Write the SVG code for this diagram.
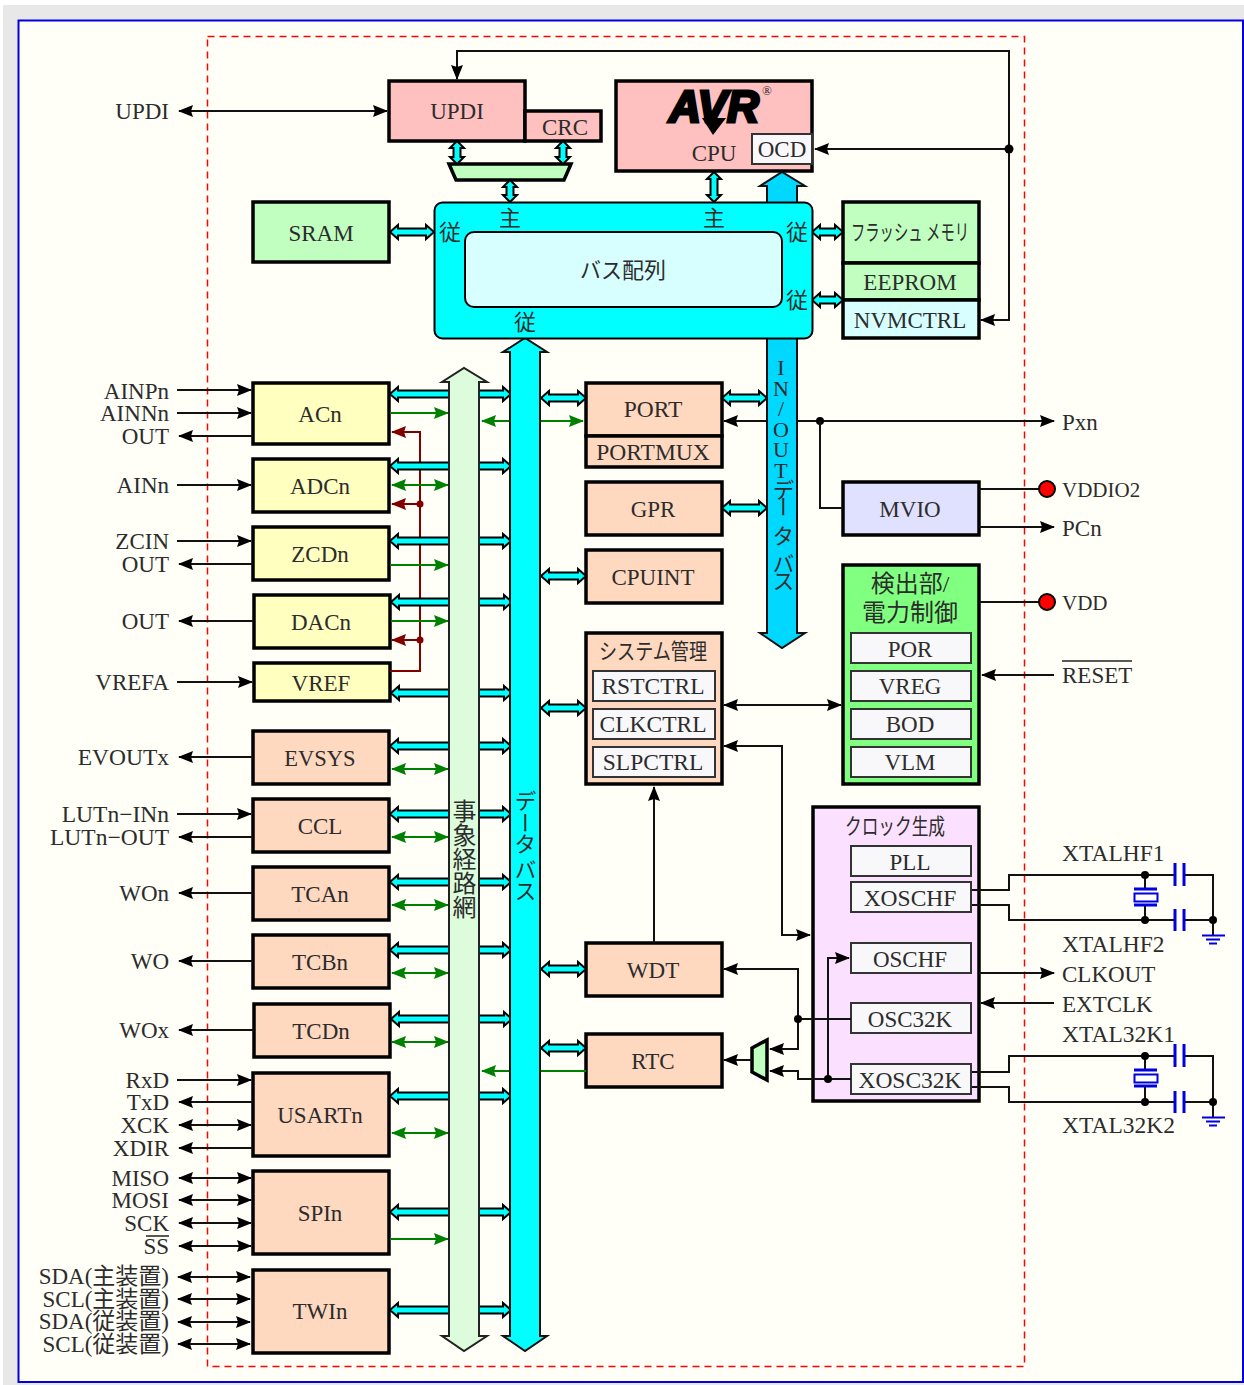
<svg xmlns="http://www.w3.org/2000/svg" width="1244" height="1385" viewBox="0 0 1244 1385">
<style>
text{font-family:"Liberation Serif","Noto Sans CJK JP",serif;font-size:23px;fill:#2c2c2c;text-anchor:middle}
.l{text-anchor:end}.r{text-anchor:start}
.j{font-size:22px}
.w{font-size:23.500px}
.n{stroke:#000;stroke-width:3.500}
.s{fill:#f8f8fa;stroke:#333;stroke-width:2}
.y{fill:#ffffc0}.o{fill:#ffd8c0}.p{fill:#ffc0c0}.g{fill:#c0ffc0}
.k{fill:none;stroke:#111;stroke-width:2}
.a{marker-end:url(#ab)}.b{marker-start:url(#ab);marker-end:url(#ab)}
.ga{fill:none;stroke:#008000;stroke-width:2;marker-end:url(#ag)}
.gb{fill:none;stroke:#008000;stroke-width:2;marker-start:url(#ag);marker-end:url(#ag)}
.ra{fill:none;stroke:#800000;stroke-width:2;marker-end:url(#ar)}
.c{fill:#00ffff;stroke:#000;stroke-width:2}
.d{fill:#000;stroke:none}
.bl{fill:none;stroke:#0000e0;stroke-width:3}
</style>
<defs>
<marker id="ab" markerUnits="userSpaceOnUse" markerWidth="15" markerHeight="14" refX="14" refY="7" orient="auto-start-reverse"><path d="M0,1 L15,7 L0,13 L2,7Z" fill="#000"/></marker>
<marker id="ag" markerUnits="userSpaceOnUse" markerWidth="15" markerHeight="14" refX="14" refY="7" orient="auto-start-reverse"><path d="M0,1 L15,7 L0,13 L2,7Z" fill="#008000"/></marker>
<marker id="ar" markerUnits="userSpaceOnUse" markerWidth="15" markerHeight="14" refX="14" refY="7" orient="auto-start-reverse"><path d="M0,1 L15,7 L0,13 L2,7Z" fill="#800000"/></marker>
</defs>
<rect width="1244" height="1385" fill="#fff"/>
<rect x="3" y="5" width="1241" height="1380" fill="#e8e8e8"/>
<rect x="18.500" y="20.500" width="1224.500" height="1361.500" fill="#fffff8" stroke="#0000e0" stroke-width="2"/>
<rect x="207.500" y="36.500" width="817" height="1330" fill="none" stroke="#f00" stroke-width="1.500" stroke-dasharray="7 5"/>

<g id="updi"><rect class="n p" x="389" y="81" width="136" height="60"/><text x="457" y="119">UPDI</text></g>
<g id="crc"><rect class="n p" x="525" y="111" width="76" height="30"/><text x="565" y="135">CRC</text></g>
<g id="mux1"><path class="n g" d="M449,164H571L564,180H456Z"/></g>
<g id="cpu"><rect class="n p" x="616" y="81" width="196" height="90"/>
<path d="M702,118H726L713,135Z" fill="#000"/>
<text x="714" y="122" textLength="90" lengthAdjust="spacingAndGlyphs" style="font-family:'Liberation Sans',sans-serif;font-weight:bold;font-style:italic;font-size:44px;fill:#000;stroke:#000;stroke-width:3">AVR</text>
<text x="767" y="95" style="font-size:13px">®</text>
<text x="714" y="161">CPU</text></g>
<g id="ocd"><rect class="s" x="752" y="134" width="60" height="30"/><text x="782" y="157">OCD</text></g>
<g id="sram"><rect class="n g" x="253" y="202" width="136" height="60"/><text x="321" y="241">SRAM</text></g>
<g id="flash"><rect class="n g" x="843" y="202" width="136" height="61"/><text class="j" x="910" y="240" textLength="118" lengthAdjust="spacingAndGlyphs">フラッシュ メモリ</text></g>
<g id="eeprom"><rect class="n g" x="843" y="263" width="136" height="37"/><text x="910" y="290">EEPROM</text></g>
<g id="nvmctrl"><rect class="n" fill="#d8ffff" x="843" y="300" width="136" height="38"/><text x="910" y="328">NVMCTRL</text></g>

<g id="acn"><rect class="n y" x="253" y="383" width="136" height="61"/><text x="320" y="422">ACn</text></g>
<g id="adcn"><rect class="n y" x="253" y="459" width="136" height="53"/><text x="320" y="494">ADCn</text></g>
<g id="zcdn"><rect class="n y" x="253" y="527" width="136" height="53"/><text x="320" y="562">ZCDn</text></g>
<g id="dacn"><rect class="n y" x="254" y="595" width="136" height="53"/><text x="321" y="630">DACn</text></g>
<g id="vref"><rect class="n y" x="254" y="663" width="136" height="38"/><text x="321" y="691">VREF</text></g>
<g id="evsys"><rect class="n o" x="253" y="731" width="136" height="53"/><text x="320" y="766" style="font-size:22.500px">EVSYS</text></g>
<g id="ccl"><rect class="n o" x="253" y="799" width="136" height="53"/><text x="320" y="834">CCL</text></g>
<g id="tcan"><rect class="n o" x="253" y="867" width="136" height="53"/><text x="320" y="902">TCAn</text></g>
<g id="tcbn"><rect class="n o" x="253" y="935" width="136" height="53"/><text x="320" y="970">TCBn</text></g>
<g id="tcdn"><rect class="n o" x="254" y="1004" width="136" height="53"/><text x="321" y="1039">TCDn</text></g>
<g id="usartn"><rect class="n o" x="253" y="1073" width="136" height="83"/><text x="320" y="1123">USARTn</text></g>
<g id="spin"><rect class="n o" x="253" y="1171" width="136" height="83"/><text x="320" y="1221">SPIn</text></g>
<g id="twin"><rect class="n o" x="253" y="1270" width="136" height="83"/><text x="320" y="1319">TWIn</text></g>

<g id="port"><rect class="n o" x="586" y="383" width="136" height="53"/><text class="w" x="653" y="417">PORT</text></g>
<g id="portmux"><rect class="n o" x="586" y="436" width="136" height="31"/><text class="w" x="653" y="460">PORTMUX</text></g>
<g id="gpr"><rect class="n o" x="586" y="482" width="136" height="53"/><text x="653" y="517">GPR</text></g>
<g id="cpuint"><rect class="n o" x="586" y="550" width="136" height="53"/><text x="653" y="585">CPUINT</text></g>
<g id="sysmgmt"><rect class="n o" x="586" y="633" width="136" height="151"/><text class="j" x="653" y="659" textLength="108" lengthAdjust="spacingAndGlyphs">システム管理</text></g>
<g id="rstctrl"><rect class="s" x="593" y="671" width="122" height="30"/><text class="w" x="653" y="694">RSTCTRL</text></g>
<g id="clkctrl"><rect class="s" x="593" y="709" width="122" height="30"/><text class="w" x="653" y="732">CLKCTRL</text></g>
<g id="slpctrl"><rect class="s" x="593" y="747" width="122" height="30"/><text class="w" x="653" y="770">SLPCTRL</text></g>
<g id="wdt"><rect class="n o" x="586" y="943" width="136" height="53"/><text x="653" y="978">WDT</text></g>
<g id="rtc"><rect class="n o" x="586" y="1034" width="136" height="53"/><text x="653" y="1069">RTC</text></g>
<g id="mux2"><path class="n g" d="M752,1048L767,1040V1080L752,1072Z"/></g>

<g id="mvio"><rect class="n" fill="#e0e0ff" x="843" y="482" width="136" height="53"/><text x="910" y="517">MVIO</text></g>
<g id="detect"><rect class="n" fill="#80ff80" x="843" y="565" width="136" height="219"/><text x="910" y="592" style="font-size:24px">検出部/</text><text x="910" y="621" style="font-size:24px">電力制御</text></g>
<g id="por"><rect class="s" x="851" y="633" width="120" height="30"/><text x="910" y="657">POR</text></g>
<g id="vreg"><rect class="s" x="851" y="671" width="120" height="30"/><text x="910" y="694">VREG</text></g>
<g id="bod"><rect class="s" x="851" y="709" width="120" height="30"/><text x="910" y="732">BOD</text></g>
<g id="vlm"><rect class="s" x="851" y="747" width="120" height="30"/><text x="910" y="770">VLM</text></g>

<g id="clockgen"><rect class="n" fill="#fce0ff" x="813" y="807" width="166" height="294"/><text class="j" x="895" y="834" textLength="100" lengthAdjust="spacingAndGlyphs">クロック生成</text></g>
<g id="pll"><rect class="s" x="851" y="846" width="120" height="30"/><text x="910" y="870">PLL</text></g>
<g id="xoschf"><rect class="s" x="851" y="882" width="120" height="30"/><text class="w" x="910" y="906">XOSCHF</text></g>
<g id="oschf"><rect class="s" x="851" y="943" width="120" height="30"/><text x="910" y="967">OSCHF</text></g>
<g id="osc32k"><rect class="s" x="851" y="1003" width="120" height="30"/><text x="910" y="1027">OSC32K</text></g>
<g id="xosc32k"><rect class="s" x="851" y="1064" width="120" height="30"/><text class="w" x="910" y="1088">XOSC32K</text></g>

<g id="connectors">
<path class="k b" d="M179,111H387"/>
<path class="k b" d="M981,320H1009V51H457V79"/>
<path class="k a" d="M1009,149H815"/>
<circle class="d" cx="1009" cy="149" r="4.500"/>
<path class="ra" d="M390,671H420V432H392"/>
<path class="ra" d="M420,504H392"/>
<path class="ra" d="M420,640H392"/>
<circle cx="420" cy="504" r="3.500" fill="#800000"/>
<circle cx="420" cy="640" r="3.500" fill="#800000"/>
<path class="c" d="M390,394l8,-7v3.500H503v-3.500l8,7l-8,7v-3.500H398v3.500Z"/>
<path class="c" d="M390,466l8,-7v3.500H503v-3.500l8,7l-8,7v-3.500H398v3.500Z"/>
<path class="c" d="M390,541l8,-7v3.500H503v-3.500l8,7l-8,7v-3.500H398v3.500Z"/>
<path class="c" d="M391,602l8,-7v3.500H504v-3.500l8,7l-8,7v-3.500H399v3.500Z"/>
<path class="c" d="M391,693l8,-7v3.500H504v-3.500l8,7l-8,7v-3.500H399v3.500Z"/>
<path class="c" d="M390,746l8,-7v3.500H503v-3.500l8,7l-8,7v-3.500H398v3.500Z"/>
<path class="c" d="M390,814l8,-7v3.500H503v-3.500l8,7l-8,7v-3.500H398v3.500Z"/>
<path class="c" d="M390,882l8,-7v3.500H503v-3.500l8,7l-8,7v-3.500H398v3.500Z"/>
<path class="c" d="M390,950l8,-7v3.500H503v-3.500l8,7l-8,7v-3.500H398v3.500Z"/>
<path class="c" d="M391,1019l8,-7v3.500H504v-3.500l8,7l-8,7v-3.500H399v3.500Z"/>
<path class="c" d="M390,1096l8,-7v3.500H503v-3.500l8,7l-8,7v-3.500H398v3.500Z"/>
<path class="c" d="M390,1212l8,-7v3.500H503v-3.500l8,7l-8,7v-3.500H398v3.500Z"/>
<path class="c" d="M390,1310l8,-7v3.500H503v-3.500l8,7l-8,7v-3.500H398v3.500Z"/>
<path class="c" d="M390,232l8,-7v3.500H426v-3.500l8,7l-8,7v-3.500H398v3.500Z"/>
<path class="c" d="M812,232l8,-7v3.500H835v-3.500l8,7l-8,7v-3.500H820v3.500Z"/>
<path class="c" d="M812,300l8,-7v3.500H835v-3.500l8,7l-8,7v-3.500H820v3.500Z"/>
<path class="c" d="M541,398l8,-7v3.500H578v-3.500l8,7l-8,7v-3.500H549v3.500Z"/>
<path class="c" d="M541,576l8,-7v3.500H578v-3.500l8,7l-8,7v-3.500H549v3.500Z"/>
<path class="c" d="M541,708l8,-7v3.500H578v-3.500l8,7l-8,7v-3.500H549v3.500Z"/>
<path class="c" d="M541,969l8,-7v3.500H578v-3.500l8,7l-8,7v-3.500H549v3.500Z"/>
<path class="c" d="M541,1048l8,-7v3.500H578v-3.500l8,7l-8,7v-3.500H549v3.500Z"/>
<path class="c" d="M722,398l8,-7v3.500H759v-3.500l8,7l-8,7v-3.500H730v3.500Z"/>
<path class="c" d="M722,508l8,-7v3.500H759v-3.500l8,7l-8,7v-3.500H730v3.500Z"/>
<path class="c" d="M457,141l7,7h-3.500V157h3.500l-7,7l-7,-7h3.500V148h-3.500Z"/>
<path class="c" d="M563,141l7,7h-3.500V157h3.500l-7,7l-7,-7h3.500V148h-3.500Z"/>
<path class="c" d="M510,180l7,7h-3.500V195h3.500l-7,7l-7,-7h3.500V187h-3.500Z"/>
<path class="c" d="M714,172l7,7h-3.500V195h3.500l-7,7l-7,-7h3.500V179h-3.500Z"/>
<path class="ga" d="M390,413H448"/>
<path class="ga" d="M390,565H448"/>
<path class="ga" d="M391,621H448"/>
<path class="ga" d="M390,1239H448"/>
<path class="gb" d="M392,485H448"/>
<path class="gb" d="M392,769H448"/>
<path class="gb" d="M392,837H448"/>
<path class="gb" d="M392,905H448"/>
<path class="gb" d="M392,973H448"/>
<path class="gb" d="M392,1042H448"/>
<path class="gb" d="M392,1133H448"/>
<path class="gb" d="M482,421H583"/>
<path class="ga" d="M586,1071H482"/>
<path class="k a" d="M177,390H251"/>
<path class="k a" d="M177,413H251"/>
<path class="k a" d="M253,436H179"/>
<path class="k a" d="M177,485H251"/>
<path class="k a" d="M177,541H251"/>
<path class="k a" d="M253,564H179"/>
<path class="k a" d="M254,621H179"/>
<path class="k a" d="M177,682H252"/>
<path class="k a" d="M253,757H179"/>
<path class="k a" d="M177,814H251"/>
<path class="k a" d="M253,837H179"/>
<path class="k a" d="M253,893H179"/>
<path class="k a" d="M253,961H179"/>
<path class="k a" d="M254,1030H179"/>
<path class="k a" d="M177,1080H251"/>
<path class="k a" d="M253,1102H179"/>
<path class="k b" d="M179,1125H251"/>
<path class="k a" d="M253,1148H179"/>
<path class="k b" d="M179,1178H251"/>
<path class="k b" d="M179,1200H251"/>
<path class="k b" d="M179,1223H251"/>
<path class="k b" d="M179,1246H251"/>
<path class="k b" d="M178,1277H250"/>
<path class="k b" d="M178,1299H250"/>
<path class="k b" d="M178,1322H250"/>
<path class="k b" d="M178,1344H250"/>
<path class="k a" d="M767,421H724"/>
<path class="k a" d="M797,421H1054"/>
<circle class="d" cx="820" cy="421" r="4"/>
<path class="k" d="M820,421V508H843"/>
<path class="k" d="M979,489H1040"/>
<path class="k a" d="M979,527H1054"/>
<path class="k" d="M979,602H1040"/>
<path class="k a" d="M1054,675H982"/>
<path class="k b" d="M724,705H841"/>
<path class="k b" d="M724,746H782V935H810"/>
<path class="k a" d="M654,943V787"/>
<path class="k b" d="M724,969H798V1049H770"/>
<path class="k" d="M851,1019H798"/>
<circle class="d" cx="798" cy="1019" r="4"/>
<path class="k a" d="M851,1079H798V1071H770"/>
<path class="k a" d="M828,1079V958H849"/>
<circle class="d" cx="828" cy="1079" r="4"/>
<path class="k a" d="M752,1060H724"/>
<path class="k a" d="M979,973H1054"/>
<path class="k a" d="M1054,1003H981"/>
<path class="k" d="M972,890H1009V875H1175M1184,875H1213V920H1184M1175,920H1009V905H972"/>
<path class="k" d="M1145,875V889M1145,905V920M1213,920V935"/>
<circle class="d" cx="1145" cy="875" r="4"/><circle class="d" cx="1145" cy="920" r="4"/><circle class="d" cx="1213" cy="920" r="4"/>
<path class="bl" d="M1175,863V886M1184,863V886M1175,909V931M1184,909V931M1134,889H1157M1134,905H1157"/>
<rect x="1134.500" y="893.500" width="23" height="8" fill="none" stroke="#0000e0" stroke-width="2"/>
<path d="M1202,935.500H1225M1206,939.500H1220M1209,943.500H1217" fill="none" stroke="#0000e0" stroke-width="2"/>
<path class="k" d="M972,1072H1009V1056H1175M1184,1056H1213V1102H1184M1175,1102H1009V1087H972"/>
<path class="k" d="M1145,1056V1070M1145,1086V1102M1213,1102V1117"/>
<circle class="d" cx="1145" cy="1056" r="4"/><circle class="d" cx="1145" cy="1102" r="4"/><circle class="d" cx="1213" cy="1102" r="4"/>
<path class="bl" d="M1175,1044V1067M1184,1044V1067M1175,1091V1113M1184,1091V1113M1134,1070H1157M1134,1086H1157"/>
<rect x="1134.500" y="1074.500" width="23" height="8" fill="none" stroke="#0000e0" stroke-width="2"/>
<path d="M1202,1117.500H1225M1206,1121.500H1220M1209,1125.500H1217" fill="none" stroke="#0000e0" stroke-width="2"/>
</g>

<g id="io-bus">
<path d="M767,339V186H760L782,172L805,186H797V633H805L782,648L760,633H767Z" fill="#00d8ff" stroke="#111" stroke-width="2"/>
<text x="781" y="355" style="writing-mode:vertical-rl;text-orientation:upright;text-anchor:start;font-size:22px;letter-spacing:-4.400px">IN/OUTデ<tspan style="letter-spacing:6px">ー</tspan>タ<tspan style="letter-spacing:-14.400px"> </tspan>バス</text>
</g>
<g id="event-bus">
<path d="M449,382H442L464,368L487,382H479V1336H487L464,1351L442,1336H449Z" fill="#dcfcdc" stroke="#222" stroke-width="2"/>
<text x="462" y="799" style="writing-mode:vertical-rl;text-anchor:start;font-size:24px">事象経路網</text>
</g>
<g id="data-bus">
<path d="M510,352H503L525,338L547,352H540V1336H547L525,1351L503,1336H510Z" fill="#00ffff" stroke="#111" stroke-width="2"/>
<text x="523" y="790" style="writing-mode:vertical-rl;text-anchor:start;font-size:22px;letter-spacing:-0.800px">データ バス</text>
</g>

<g id="bus-matrix">
<rect x="434.500" y="202.500" width="378" height="136" rx="8" fill="#00ffff" stroke="#000" stroke-width="2"/>
<rect x="465" y="232" width="317" height="75" rx="9" fill="#d8ffff" stroke="#000" stroke-width="2"/>
<text class="j" x="623" y="278"><tspan textLength="42" lengthAdjust="spacingAndGlyphs">バス</tspan>配列</text>
<text class="j" x="450" y="240">従</text><text class="j" x="797" y="240">従</text><text class="j" x="797" y="308">従</text><text class="j" x="525" y="330">従</text>
<text class="j" x="510" y="226">主</text><text class="j" x="714" y="226">主</text>
</g>

<g id="vddio2-pin"><circle cx="1047" cy="489" r="8" fill="#f00" stroke="#000" stroke-width="2"/></g>
<g id="vdd-pin"><circle cx="1047" cy="602" r="8" fill="#f00" stroke="#000" stroke-width="2"/></g>

<g id="labels-left">
<text class="l" x="169" y="119">UPDI</text>
<text class="l" x="169" y="399">AINPn</text><text class="l" x="169" y="421">AINNn</text><text class="l" x="169" y="444">OUT</text>
<text class="l" x="169" y="493">AINn</text><text class="l" x="169" y="549">ZCIN</text><text class="l" x="169" y="572">OUT</text>
<text class="l" x="169" y="629">OUT</text><text class="l" x="169" y="690">VREFA</text><text class="l w" x="169" y="765">EVOUTx</text>
<text class="l w" x="169" y="822">LUTn−INn</text><text class="l w" x="169" y="845">LUTn−OUT</text>
<text class="l" x="169" y="901">WOn</text><text class="l" x="169" y="969">WO</text><text class="l" x="169" y="1038">WOx</text>
<text class="l" x="169" y="1088">RxD</text><text class="l" x="169" y="1110">TxD</text><text class="l" x="169" y="1133">XCK</text><text class="l" x="169" y="1156">XDIR</text>
<text class="l" x="169" y="1186">MISO</text><text class="l" x="169" y="1208">MOSI</text><text class="l" x="169" y="1231">SCK</text><text class="l" x="169" y="1254">SS</text>
<path d="M146,1236H169" stroke="#222" stroke-width="1.500"/>
<text class="l" x="169" y="1284">SDA(主装置)</text><text class="l" x="169" y="1307">SCL(主装置)</text><text class="l" x="169" y="1329">SDA(従装置)</text><text class="l" x="169" y="1352">SCL(従装置)</text>
</g>
<g id="labels-right">
<text class="r" x="1062" y="430">Pxn</text>
<text class="r" x="1062" y="497" style="font-size:21px">VDDIO2</text>
<text class="r" x="1062" y="536">PCn</text>
<text class="r" x="1062" y="610" style="font-size:21px">VDD</text>
<text class="r" x="1062" y="683">RESET</text><path d="M1062,661H1132" stroke="#222" stroke-width="1.500"/>
<text class="r w" x="1062" y="861">XTALHF1</text>
<text class="r w" x="1062" y="952">XTALHF2</text>
<text class="r" x="1062" y="982">CLKOUT</text>
<text class="r" x="1062" y="1012">EXTCLK</text>
<text class="r w" x="1062" y="1042">XTAL32K1</text>
<text class="r w" x="1062" y="1133">XTAL32K2</text>
</g>
</svg>
